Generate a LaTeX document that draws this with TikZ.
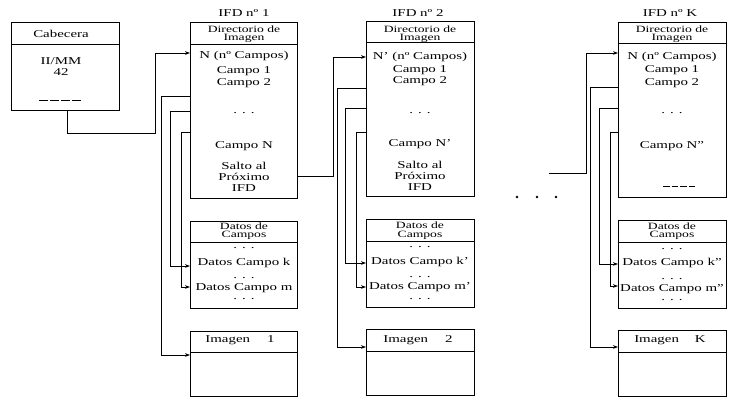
\documentclass[tikz,border=0pt]{standalone}
\usepackage{fontspec}
\setmainfont[FakeStretch=1.42]{Liberation Serif}
\usetikzlibrary{arrows.meta}
\newcommand\drawbox[6]{%
  \node[boxst, minimum width=#4pt, minimum height=#5pt, anchor=north west] (#1) at (#2,#3) {};
  \draw[boxst] ([yshift=-#6pt]#1.north west) -- ([yshift=-#6pt]#1.north east);}
\begin{document}
\begin{tikzpicture}[x=1pt,y=-1pt,
  boxst/.style={draw, line width=0.7pt, inner sep=0pt},
  txt/.style={inner sep=0pt, font=\fontsize{10.5}{11}\selectfont},
  hdr/.style={inner sep=0pt, anchor=base, font=\fontsize{9.6}{10}\selectfont},
  arr/.style={line width=0.7pt, -{Stealth[length=5pt,width=3.6pt]}},
  dsh/.style={line width=0.8pt}]
\useasboundingbox (0,0) rectangle (731,397);
% boxes
\drawbox{cab}{11}{22}{108}{88}{22}
\drawbox{ifda}{190}{22}{107}{176}{22}
\drawbox{data}{190}{221}{107}{87}{21}
\drawbox{imga}{190}{331}{107}{65}{21}
\drawbox{ifdb}{366}{21}{108}{175}{21}
\drawbox{datb}{366}{219}{108}{88}{22}
\drawbox{imgb}{366}{329}{108}{66}{22}
\drawbox{ifdk}{618}{22}{108}{175}{21}
\drawbox{datk}{618}{220}{108}{88}{22}
\drawbox{imgk}{618}{330}{108}{66}{22}
% Cabecera
\node[txt] (cab1) at (61,34) {Cabecera};
\node[txt] (cab2) at (61,61) {II/MM};
\node[txt] (cab3) at (61,72) {42};
\draw[dsh, dash pattern=on 8.5pt off 2.5pt] (39,100) -- (81,100);
% column 1
\node[txt] (a0) at (244,13) {IFD nº 1};
\node[hdr] (a1) at (244,32.5) {Directorio de};
\node[hdr] (a2) at (244,40.8) {Imagen};
\node[txt] (a3) at (244,56) {N (nº Campos)};
\node[txt] (a4) at (244,71) {Campo 1};
\node[txt] (a5) at (244,83) {Campo 2};
\node[txt] (a6) at (244,113) {. . .};
\node[txt] (a7) at (244,146) {Campo N};
\node[txt] (a8) at (244,166) {Salto al};
\node[txt] (a9) at (244,177) {Próximo};
\node[txt] (a10) at (244,188) {IFD};
\node[hdr] (da1) at (244,229) {Datos de};
\node[hdr] (da2) at (244,237.3) {Campos};
\node[txt] (da3) at (244,248) {. . .};
\node[txt] (da4) at (244,263) {Datos Campo k};
\node[txt] (da5) at (244,278) {. . .};
\node[txt] (da6) at (244,288) {Datos Campo m};
\node[txt] (da7) at (244,299) {. . .};
\node[txt] (ia1) at (240,340.5) {Imagen\hspace{17pt}1};
% column 2
\node[txt] (b0) at (418,13) {IFD nº 2};
\node[hdr] (b1) at (420,32) {Directorio de};
\node[hdr] (b2) at (420,40.3) {Imagen};
\node[txt] (b3) at (420,57) {N' (nº Campos)};
\node[txt] (b4) at (420,70) {Campo 1};
\node[txt] (b5) at (420,81) {Campo 2};
\node[txt] (b6) at (420,113) {. . .};
\node[txt] (b7) at (420,144) {Campo N'};
\node[txt] (b8) at (420,165) {Salto al};
\node[txt] (b9) at (420,176) {Próximo};
\node[txt] (b10) at (420,187) {IFD};
\node[hdr] (db1) at (420,228.7) {Datos de};
\node[hdr] (db2) at (420,237) {Campos};
\node[txt] (db3) at (420,247.5) {. . .};
\node[txt] (db4) at (420,262) {Datos Campo k'};
\node[txt] (db5) at (420,277) {. . .};
\node[txt] (db6) at (420,287) {Datos Campo m'};
\node[txt] (db7) at (420,299) {. . .};
\node[txt] (ib1) at (418,340) {Imagen\hspace{17pt}2};
% column K
\node[txt] (k0) at (670,13) {IFD nº K};
\node[hdr] (k1) at (672,32.5) {Directorio de};
\node[hdr] (k2) at (672,40.8) {Imagen};
\node[txt] (k3) at (672,57) {N (nº Campos)};
\node[txt] (k4) at (672,70) {Campo 1};
\node[txt] (k5) at (672,83) {Campo 2};
\node[txt] (k6) at (672,113) {. . .};
\node[txt] (k7) at (672,146) {Campo N''};
\draw[dsh, dash pattern=on 6.5pt off 2pt] (663,186) -- (695,186);
\node[hdr] (dk1) at (672,229.2) {Datos de};
\node[hdr] (dk2) at (672,237.5) {Campos};
\node[txt] (dk3) at (672,249) {. . .};
\node[txt] (dk4) at (672,263) {Datos Campo k''};
\node[txt] (dk5) at (672,279) {. . .};
\node[txt] (dk6) at (672,289) {Datos Campo m''};
\node[txt] (dk7) at (672,300) {. . .};
\node[txt] (ik1) at (670,340) {Imagen\hspace{16pt}K};
% ellipsis dots
\fill (517,197) circle (1.3pt);
\fill (537,197) circle (1.3pt);
\fill (556,197) circle (1.3pt);
% connectors
\draw[arr] (cab.south -| 67,0) -- (67,133) -| (155,53) -- (ifda.west |- 0,53);
\draw[arr] (ifda.west |- 0,96) -| (161,355) -- (imga.west |- 0,355);
\draw[arr] (ifda.west |- 0,111) -| (170,266) -- (data.west |- 0,266);
\draw[arr] (ifda.west |- 0,132) -| (181,287) -- (data.west |- 0,287);
\draw[arr] (ifda.east |- 0,176) -| (333,57) -- (ifdb.west |- 0,57);
\draw[arr] (ifdb.west |- 0,88) -| (337,347) -- (imgb.west |- 0,347);
\draw[arr] (ifdb.west |- 0,108) -| (345,263) -- (datb.west |- 0,263);
\draw[arr] (ifdb.west |- 0,132) -| (356,287) -- (datb.west |- 0,287);
\coordinate (kin) at (549,173);
\draw[arr] (kin) -| (586,53) -- (ifdk.west |- 0,53);
\draw[arr] (ifdk.west |- 0,87) -| (590,347) -- (imgk.west |- 0,347);
\draw[arr] (ifdk.west |- 0,108) -| (599,264) -- (datk.west |- 0,264);
\draw[arr] (ifdk.west |- 0,132) -| (610,286) -- (datk.west |- 0,286);
\end{tikzpicture}
\end{document}
